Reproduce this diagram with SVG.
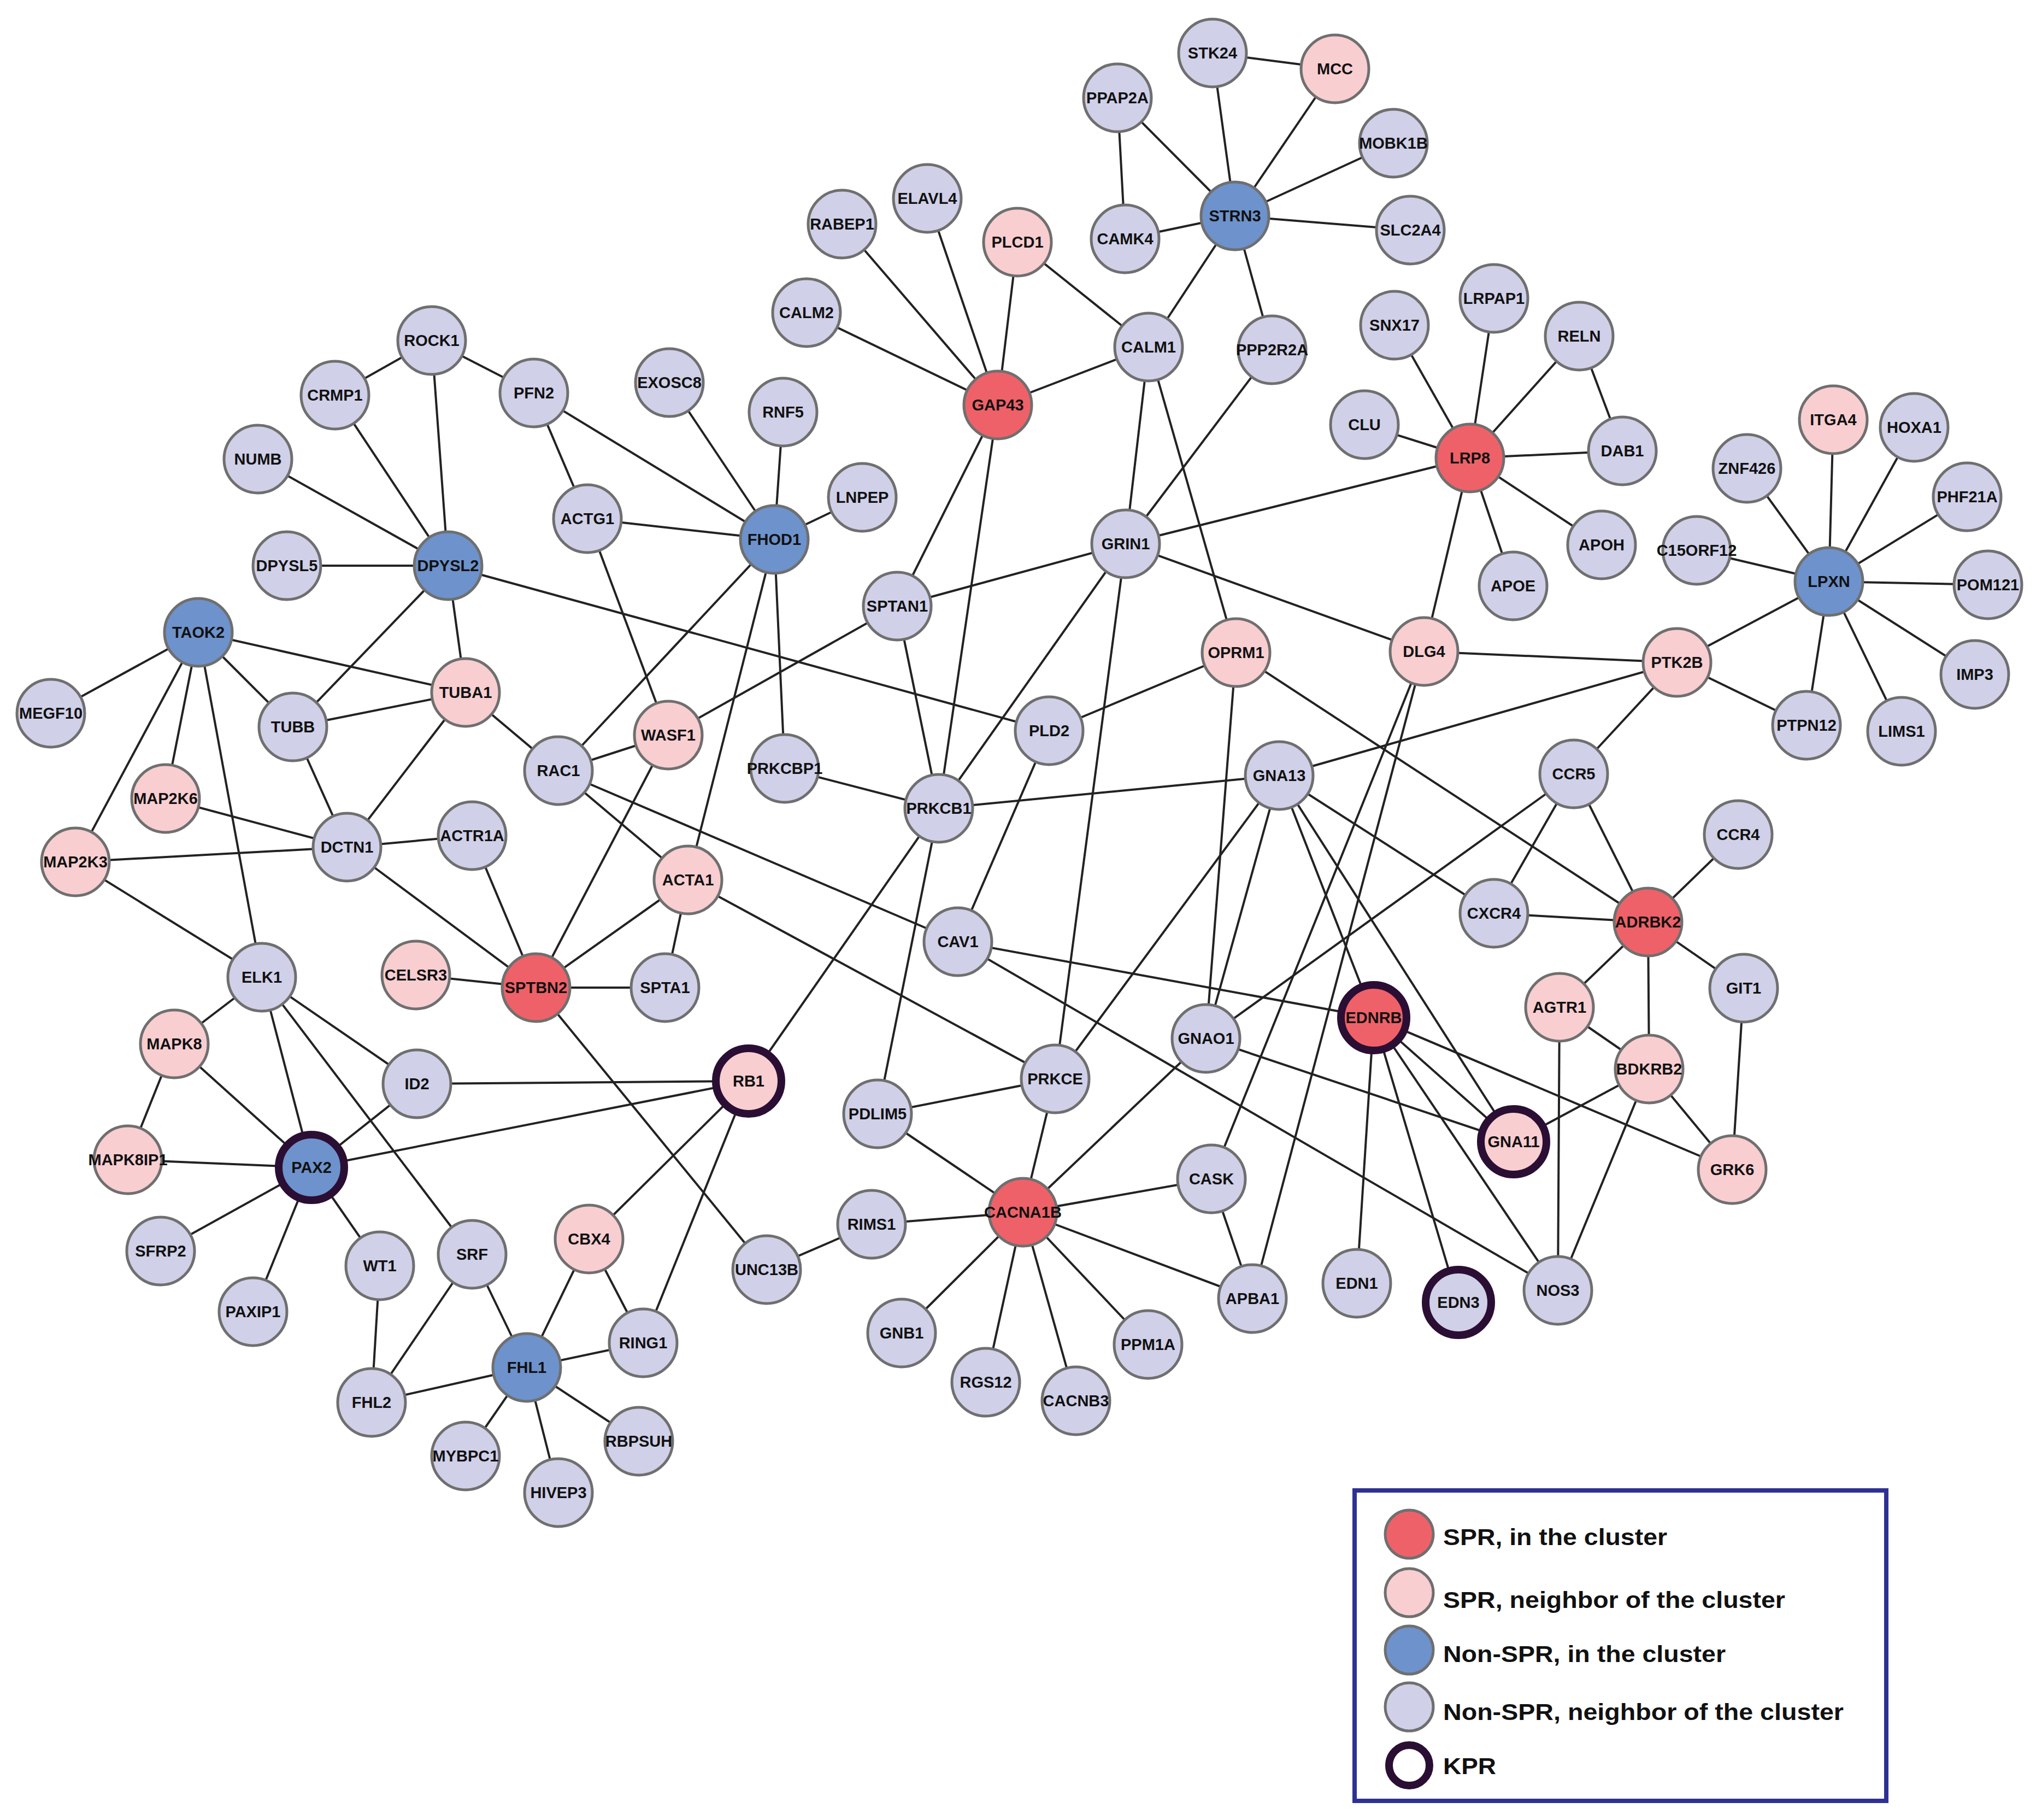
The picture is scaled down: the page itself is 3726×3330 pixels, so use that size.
<svg xmlns="http://www.w3.org/2000/svg" width="3726" height="3330" viewBox="0 0 3726 3330">
<style>
.e{stroke:#222;stroke-width:4;fill:none}
circle{stroke:#6f6f6f;stroke-width:5}
.r{fill:#ef6168}.p{fill:#f8ced1}.b{fill:#6d92cc}.n{fill:#d0d0e8}
.k{stroke:#2b0e33;stroke-width:14}
text{font-family:"Liberation Sans",Arial,sans-serif;font-weight:bold;font-size:29px;fill:#111;text-anchor:middle}
.lg{font-size:42px;text-anchor:start}
</style>
<rect width="3726" height="3330" fill="#fff"/>
<g id="edges" class="e">
<line x1="2260" y1="395" x2="2219" y2="97"/>
<line x1="2260" y1="395" x2="2443" y2="126"/>
<line x1="2260" y1="395" x2="2045" y2="179"/>
<line x1="2260" y1="395" x2="2550" y2="262"/>
<line x1="2260" y1="395" x2="2059" y2="437"/>
<line x1="2260" y1="395" x2="2581" y2="421"/>
<line x1="2260" y1="395" x2="2102" y2="635"/>
<line x1="2260" y1="395" x2="2328" y2="640"/>
<line x1="2219" y1="97" x2="2443" y2="126"/>
<line x1="2045" y1="179" x2="2059" y2="437"/>
<line x1="1826" y1="741" x2="1541" y2="410"/>
<line x1="1826" y1="741" x2="1697" y2="363"/>
<line x1="1826" y1="741" x2="1862" y2="443"/>
<line x1="1826" y1="741" x2="1476" y2="572"/>
<line x1="1826" y1="741" x2="2102" y2="635"/>
<line x1="1826" y1="741" x2="1642" y2="1109"/>
<line x1="1826" y1="741" x2="1718" y2="1479"/>
<line x1="1862" y1="443" x2="2102" y2="635"/>
<line x1="2102" y1="635" x2="2060" y2="995"/>
<line x1="2102" y1="635" x2="2262" y2="1194"/>
<line x1="2328" y1="640" x2="2060" y2="995"/>
<line x1="2690" y1="838" x2="2552" y2="595"/>
<line x1="2690" y1="838" x2="2734" y2="546"/>
<line x1="2690" y1="838" x2="2890" y2="615"/>
<line x1="2690" y1="838" x2="2497" y2="777"/>
<line x1="2690" y1="838" x2="2969" y2="825"/>
<line x1="2690" y1="838" x2="2931" y2="997"/>
<line x1="2690" y1="838" x2="2769" y2="1072"/>
<line x1="2690" y1="838" x2="2606" y2="1192"/>
<line x1="2690" y1="838" x2="2060" y2="995"/>
<line x1="2890" y1="615" x2="2969" y2="825"/>
<line x1="3347" y1="1064" x2="3355" y2="768"/>
<line x1="3347" y1="1064" x2="3503" y2="782"/>
<line x1="3347" y1="1064" x2="3197" y2="857"/>
<line x1="3347" y1="1064" x2="3600" y2="909"/>
<line x1="3347" y1="1064" x2="3105" y2="1007"/>
<line x1="3347" y1="1064" x2="3638" y2="1070"/>
<line x1="3347" y1="1064" x2="3614" y2="1234"/>
<line x1="3347" y1="1064" x2="3480" y2="1338"/>
<line x1="3347" y1="1064" x2="3306" y2="1327"/>
<line x1="3347" y1="1064" x2="3069" y2="1212"/>
<line x1="3069" y1="1212" x2="2606" y2="1192"/>
<line x1="3069" y1="1212" x2="2341" y2="1419"/>
<line x1="3069" y1="1212" x2="2880" y2="1416"/>
<line x1="3069" y1="1212" x2="3306" y2="1327"/>
<line x1="2060" y1="995" x2="1642" y2="1109"/>
<line x1="2060" y1="995" x2="2606" y2="1192"/>
<line x1="2060" y1="995" x2="1718" y2="1479"/>
<line x1="2060" y1="995" x2="1931" y2="1974"/>
<line x1="2606" y1="1192" x2="2217" y2="2157"/>
<line x1="2606" y1="1192" x2="2292" y2="2376"/>
<line x1="2262" y1="1194" x2="1920" y2="1337"/>
<line x1="2262" y1="1194" x2="2207" y2="1900"/>
<line x1="2262" y1="1194" x2="3016" y2="1687"/>
<line x1="1642" y1="1109" x2="1718" y2="1479"/>
<line x1="1642" y1="1109" x2="1223" y2="1345"/>
<line x1="1417" y1="987" x2="1225" y2="700"/>
<line x1="1417" y1="987" x2="1433" y2="754"/>
<line x1="1417" y1="987" x2="1578" y2="910"/>
<line x1="1417" y1="987" x2="1075" y2="949"/>
<line x1="1417" y1="987" x2="977" y2="719"/>
<line x1="1417" y1="987" x2="1436" y2="1406"/>
<line x1="1417" y1="987" x2="1022" y2="1410"/>
<line x1="1417" y1="987" x2="1259" y2="1610"/>
<line x1="790" y1="623" x2="613" y2="723"/>
<line x1="790" y1="623" x2="977" y2="719"/>
<line x1="790" y1="623" x2="820" y2="1035"/>
<line x1="977" y1="719" x2="1075" y2="949"/>
<line x1="1075" y1="949" x2="1223" y2="1345"/>
<line x1="820" y1="1035" x2="613" y2="723"/>
<line x1="820" y1="1035" x2="472" y2="840"/>
<line x1="820" y1="1035" x2="525" y2="1035"/>
<line x1="820" y1="1035" x2="536" y2="1330"/>
<line x1="820" y1="1035" x2="852" y2="1267"/>
<line x1="820" y1="1035" x2="1920" y2="1337"/>
<line x1="363" y1="1157" x2="93" y2="1305"/>
<line x1="363" y1="1157" x2="536" y2="1330"/>
<line x1="363" y1="1157" x2="852" y2="1267"/>
<line x1="363" y1="1157" x2="303" y2="1461"/>
<line x1="363" y1="1157" x2="138" y2="1577"/>
<line x1="363" y1="1157" x2="479" y2="1788"/>
<line x1="536" y1="1330" x2="852" y2="1267"/>
<line x1="536" y1="1330" x2="635" y2="1550"/>
<line x1="852" y1="1267" x2="635" y2="1550"/>
<line x1="852" y1="1267" x2="1022" y2="1410"/>
<line x1="635" y1="1550" x2="303" y2="1461"/>
<line x1="635" y1="1550" x2="138" y2="1577"/>
<line x1="635" y1="1550" x2="864" y2="1529"/>
<line x1="635" y1="1550" x2="981" y2="1807"/>
<line x1="864" y1="1529" x2="981" y2="1807"/>
<line x1="138" y1="1577" x2="479" y2="1788"/>
<line x1="1022" y1="1410" x2="1223" y2="1345"/>
<line x1="1022" y1="1410" x2="1259" y2="1610"/>
<line x1="1022" y1="1410" x2="1753" y2="1723"/>
<line x1="1223" y1="1345" x2="981" y2="1807"/>
<line x1="981" y1="1807" x2="1259" y2="1610"/>
<line x1="981" y1="1807" x2="1217" y2="1807"/>
<line x1="981" y1="1807" x2="761" y2="1784"/>
<line x1="981" y1="1807" x2="1403" y2="2323"/>
<line x1="1259" y1="1610" x2="1217" y2="1807"/>
<line x1="1259" y1="1610" x2="1931" y2="1974"/>
<line x1="1436" y1="1406" x2="1718" y2="1479"/>
<line x1="1718" y1="1479" x2="2341" y2="1419"/>
<line x1="1718" y1="1479" x2="1606" y2="2038"/>
<line x1="1718" y1="1479" x2="1370" y2="1978"/>
<line x1="1920" y1="1337" x2="1753" y2="1723"/>
<line x1="1753" y1="1723" x2="2514" y2="1862"/>
<line x1="1753" y1="1723" x2="2851" y2="2361"/>
<line x1="2341" y1="1419" x2="2207" y2="1900"/>
<line x1="2341" y1="1419" x2="1931" y2="1974"/>
<line x1="2341" y1="1419" x2="2734" y2="1671"/>
<line x1="2341" y1="1419" x2="2514" y2="1862"/>
<line x1="2341" y1="1419" x2="2770" y2="2089"/>
<line x1="2880" y1="1416" x2="2734" y2="1671"/>
<line x1="2880" y1="1416" x2="3016" y2="1687"/>
<line x1="2880" y1="1416" x2="2207" y2="1900"/>
<line x1="3016" y1="1687" x2="3181" y2="1527"/>
<line x1="3016" y1="1687" x2="2734" y2="1671"/>
<line x1="3016" y1="1687" x2="2854" y2="1843"/>
<line x1="3016" y1="1687" x2="3018" y2="1956"/>
<line x1="3016" y1="1687" x2="3191" y2="1808"/>
<line x1="3191" y1="1808" x2="3170" y2="2140"/>
<line x1="2514" y1="1862" x2="2770" y2="2089"/>
<line x1="2514" y1="1862" x2="2483" y2="2348"/>
<line x1="2514" y1="1862" x2="2669" y2="2383"/>
<line x1="2514" y1="1862" x2="2851" y2="2361"/>
<line x1="2514" y1="1862" x2="3170" y2="2140"/>
<line x1="2207" y1="1900" x2="2770" y2="2089"/>
<line x1="2207" y1="1900" x2="1872" y2="2218"/>
<line x1="2854" y1="1843" x2="3018" y2="1956"/>
<line x1="2854" y1="1843" x2="2851" y2="2361"/>
<line x1="3018" y1="1956" x2="2770" y2="2089"/>
<line x1="3018" y1="1956" x2="3170" y2="2140"/>
<line x1="3018" y1="1956" x2="2851" y2="2361"/>
<line x1="1931" y1="1974" x2="1606" y2="2038"/>
<line x1="1931" y1="1974" x2="1872" y2="2218"/>
<line x1="1606" y1="2038" x2="1872" y2="2218"/>
<line x1="1872" y1="2218" x2="2217" y2="2157"/>
<line x1="1872" y1="2218" x2="1595" y2="2240"/>
<line x1="1872" y1="2218" x2="1650" y2="2439"/>
<line x1="1872" y1="2218" x2="1804" y2="2529"/>
<line x1="1872" y1="2218" x2="1969" y2="2563"/>
<line x1="1872" y1="2218" x2="2101" y2="2460"/>
<line x1="1872" y1="2218" x2="2292" y2="2376"/>
<line x1="1595" y1="2240" x2="1403" y2="2323"/>
<line x1="2217" y1="2157" x2="2292" y2="2376"/>
<line x1="479" y1="1788" x2="763" y2="1983"/>
<line x1="479" y1="1788" x2="570" y2="2136"/>
<line x1="479" y1="1788" x2="864" y2="2295"/>
<line x1="479" y1="1788" x2="319" y2="1910"/>
<line x1="319" y1="1910" x2="570" y2="2136"/>
<line x1="319" y1="1910" x2="234" y2="2122"/>
<line x1="234" y1="2122" x2="570" y2="2136"/>
<line x1="763" y1="1983" x2="570" y2="2136"/>
<line x1="763" y1="1983" x2="1370" y2="1978"/>
<line x1="570" y1="2136" x2="1370" y2="1978"/>
<line x1="570" y1="2136" x2="294" y2="2289"/>
<line x1="570" y1="2136" x2="463" y2="2400"/>
<line x1="570" y1="2136" x2="695" y2="2316"/>
<line x1="695" y1="2316" x2="680" y2="2566"/>
<line x1="864" y1="2295" x2="680" y2="2566"/>
<line x1="864" y1="2295" x2="964" y2="2502"/>
<line x1="680" y1="2566" x2="964" y2="2502"/>
<line x1="964" y1="2502" x2="1078" y2="2267"/>
<line x1="964" y1="2502" x2="1177" y2="2457"/>
<line x1="964" y1="2502" x2="852" y2="2664"/>
<line x1="964" y1="2502" x2="1022" y2="2731"/>
<line x1="964" y1="2502" x2="1169" y2="2637"/>
<line x1="1078" y1="2267" x2="1177" y2="2457"/>
<line x1="1078" y1="2267" x2="1370" y2="1978"/>
<line x1="1370" y1="1978" x2="1177" y2="2457"/>
</g>
<g id="STK24"><circle class="n" cx="2219" cy="97" r="62"/><text x="2219" y="107">STK24</text></g>
<g id="MCC"><circle class="p" cx="2443" cy="126" r="62"/><text x="2443" y="136">MCC</text></g>
<g id="PPAP2A"><circle class="n" cx="2045" cy="179" r="62"/><text x="2045" y="189">PPAP2A</text></g>
<g id="MOBK1B"><circle class="n" cx="2550" cy="262" r="62"/><text x="2550" y="272">MOBK1B</text></g>
<g id="STRN3"><circle class="b" cx="2260" cy="395" r="62"/><text x="2260" y="405">STRN3</text></g>
<g id="CAMK4"><circle class="n" cx="2059" cy="437" r="62"/><text x="2059" y="447">CAMK4</text></g>
<g id="SLC2A4"><circle class="n" cx="2581" cy="421" r="62"/><text x="2581" y="431">SLC2A4</text></g>
<g id="ELAVL4"><circle class="n" cx="1697" cy="363" r="62"/><text x="1697" y="373">ELAVL4</text></g>
<g id="RABEP1"><circle class="n" cx="1541" cy="410" r="62"/><text x="1541" y="420">RABEP1</text></g>
<g id="PLCD1"><circle class="p" cx="1862" cy="443" r="62"/><text x="1862" y="453">PLCD1</text></g>
<g id="CALM2"><circle class="n" cx="1476" cy="572" r="62"/><text x="1476" y="582">CALM2</text></g>
<g id="CALM1"><circle class="n" cx="2102" cy="635" r="62"/><text x="2102" y="645">CALM1</text></g>
<g id="PPP2R2A"><circle class="n" cx="2328" cy="640" r="62"/><text x="2328" y="650">PPP2R2A</text></g>
<g id="SNX17"><circle class="n" cx="2552" cy="595" r="62"/><text x="2552" y="605">SNX17</text></g>
<g id="LRPAP1"><circle class="n" cx="2734" cy="546" r="62"/><text x="2734" y="556">LRPAP1</text></g>
<g id="RELN"><circle class="n" cx="2890" cy="615" r="62"/><text x="2890" y="625">RELN</text></g>
<g id="ROCK1"><circle class="n" cx="790" cy="623" r="62"/><text x="790" y="633">ROCK1</text></g>
<g id="PFN2"><circle class="n" cx="977" cy="719" r="62"/><text x="977" y="729">PFN2</text></g>
<g id="EXOSC8"><circle class="n" cx="1225" cy="700" r="62"/><text x="1225" y="710">EXOSC8</text></g>
<g id="RNF5"><circle class="n" cx="1433" cy="754" r="62"/><text x="1433" y="764">RNF5</text></g>
<g id="GAP43"><circle class="r" cx="1826" cy="741" r="62"/><text x="1826" y="751">GAP43</text></g>
<g id="CRMP1"><circle class="n" cx="613" cy="723" r="62"/><text x="613" y="733">CRMP1</text></g>
<g id="CLU"><circle class="n" cx="2497" cy="777" r="62"/><text x="2497" y="787">CLU</text></g>
<g id="LRP8"><circle class="r" cx="2690" cy="838" r="62"/><text x="2690" y="848">LRP8</text></g>
<g id="DAB1"><circle class="n" cx="2969" cy="825" r="62"/><text x="2969" y="835">DAB1</text></g>
<g id="ITGA4"><circle class="p" cx="3355" cy="768" r="62"/><text x="3355" y="778">ITGA4</text></g>
<g id="HOXA1"><circle class="n" cx="3503" cy="782" r="62"/><text x="3503" y="792">HOXA1</text></g>
<g id="NUMB"><circle class="n" cx="472" cy="840" r="62"/><text x="472" y="850">NUMB</text></g>
<g id="ACTG1"><circle class="n" cx="1075" cy="949" r="62"/><text x="1075" y="959">ACTG1</text></g>
<g id="FHOD1"><circle class="b" cx="1417" cy="987" r="62"/><text x="1417" y="997">FHOD1</text></g>
<g id="LNPEP"><circle class="n" cx="1578" cy="910" r="62"/><text x="1578" y="920">LNPEP</text></g>
<g id="ZNF426"><circle class="n" cx="3197" cy="857" r="62"/><text x="3197" y="867">ZNF426</text></g>
<g id="PHF21A"><circle class="n" cx="3600" cy="909" r="62"/><text x="3600" y="919">PHF21A</text></g>
<g id="GRIN1"><circle class="n" cx="2060" cy="995" r="62"/><text x="2060" y="1005">GRIN1</text></g>
<g id="APOH"><circle class="n" cx="2931" cy="997" r="62"/><text x="2931" y="1007">APOH</text></g>
<g id="C15ORF12"><circle class="n" cx="3105" cy="1007" r="62"/><text x="3105" y="1017">C15ORF12</text></g>
<g id="LPXN"><circle class="b" cx="3347" cy="1064" r="62"/><text x="3347" y="1074">LPXN</text></g>
<g id="POM121"><circle class="n" cx="3638" cy="1070" r="62"/><text x="3638" y="1080">POM121</text></g>
<g id="DPYSL5"><circle class="n" cx="525" cy="1035" r="62"/><text x="525" y="1045">DPYSL5</text></g>
<g id="DPYSL2"><circle class="b" cx="820" cy="1035" r="62"/><text x="820" y="1045">DPYSL2</text></g>
<g id="APOE"><circle class="n" cx="2769" cy="1072" r="62"/><text x="2769" y="1082">APOE</text></g>
<g id="SPTAN1"><circle class="n" cx="1642" cy="1109" r="62"/><text x="1642" y="1119">SPTAN1</text></g>
<g id="TAOK2"><circle class="b" cx="363" cy="1157" r="62"/><text x="363" y="1167">TAOK2</text></g>
<g id="OPRM1"><circle class="p" cx="2262" cy="1194" r="62"/><text x="2262" y="1204">OPRM1</text></g>
<g id="DLG4"><circle class="p" cx="2606" cy="1192" r="62"/><text x="2606" y="1202">DLG4</text></g>
<g id="PTK2B"><circle class="p" cx="3069" cy="1212" r="62"/><text x="3069" y="1222">PTK2B</text></g>
<g id="IMP3"><circle class="n" cx="3614" cy="1234" r="62"/><text x="3614" y="1244">IMP3</text></g>
<g id="MEGF10"><circle class="n" cx="93" cy="1305" r="62"/><text x="93" y="1315">MEGF10</text></g>
<g id="TUBB"><circle class="n" cx="536" cy="1330" r="62"/><text x="536" y="1340">TUBB</text></g>
<g id="TUBA1"><circle class="p" cx="852" cy="1267" r="62"/><text x="852" y="1277">TUBA1</text></g>
<g id="WASF1"><circle class="p" cx="1223" cy="1345" r="62"/><text x="1223" y="1355">WASF1</text></g>
<g id="PLD2"><circle class="n" cx="1920" cy="1337" r="62"/><text x="1920" y="1347">PLD2</text></g>
<g id="PTPN12"><circle class="n" cx="3306" cy="1327" r="62"/><text x="3306" y="1337">PTPN12</text></g>
<g id="LIMS1"><circle class="n" cx="3480" cy="1338" r="62"/><text x="3480" y="1348">LIMS1</text></g>
<g id="RAC1"><circle class="n" cx="1022" cy="1410" r="62"/><text x="1022" y="1420">RAC1</text></g>
<g id="PRKCBP1"><circle class="n" cx="1436" cy="1406" r="62"/><text x="1436" y="1416">PRKCBP1</text></g>
<g id="PRKCB1"><circle class="n" cx="1718" cy="1479" r="62"/><text x="1718" y="1489">PRKCB1</text></g>
<g id="GNA13"><circle class="n" cx="2341" cy="1419" r="62"/><text x="2341" y="1429">GNA13</text></g>
<g id="CCR5"><circle class="n" cx="2880" cy="1416" r="62"/><text x="2880" y="1426">CCR5</text></g>
<g id="MAP2K6"><circle class="p" cx="303" cy="1461" r="62"/><text x="303" y="1471">MAP2K6</text></g>
<g id="DCTN1"><circle class="n" cx="635" cy="1550" r="62"/><text x="635" y="1560">DCTN1</text></g>
<g id="ACTR1A"><circle class="n" cx="864" cy="1529" r="62"/><text x="864" y="1539">ACTR1A</text></g>
<g id="ACTA1"><circle class="p" cx="1259" cy="1610" r="62"/><text x="1259" y="1620">ACTA1</text></g>
<g id="CCR4"><circle class="n" cx="3181" cy="1527" r="62"/><text x="3181" y="1537">CCR4</text></g>
<g id="MAP2K3"><circle class="p" cx="138" cy="1577" r="62"/><text x="138" y="1587">MAP2K3</text></g>
<g id="CXCR4"><circle class="n" cx="2734" cy="1671" r="62"/><text x="2734" y="1681">CXCR4</text></g>
<g id="ADRBK2"><circle class="r" cx="3016" cy="1687" r="62"/><text x="3016" y="1697">ADRBK2</text></g>
<g id="CAV1"><circle class="n" cx="1753" cy="1723" r="62"/><text x="1753" y="1733">CAV1</text></g>
<g id="ELK1"><circle class="n" cx="479" cy="1788" r="62"/><text x="479" y="1798">ELK1</text></g>
<g id="CELSR3"><circle class="p" cx="761" cy="1784" r="62"/><text x="761" y="1794">CELSR3</text></g>
<g id="SPTBN2"><circle class="r" cx="981" cy="1807" r="62"/><text x="981" y="1817">SPTBN2</text></g>
<g id="SPTA1"><circle class="n" cx="1217" cy="1807" r="62"/><text x="1217" y="1817">SPTA1</text></g>
<g id="GIT1"><circle class="n" cx="3191" cy="1808" r="62"/><text x="3191" y="1818">GIT1</text></g>
<g id="EDNRB"><circle class="r k" cx="2514" cy="1862" r="60"/><text x="2514" y="1872">EDNRB</text></g>
<g id="AGTR1"><circle class="p" cx="2854" cy="1843" r="62"/><text x="2854" y="1853">AGTR1</text></g>
<g id="GNAO1"><circle class="n" cx="2207" cy="1900" r="62"/><text x="2207" y="1910">GNAO1</text></g>
<g id="MAPK8"><circle class="p" cx="319" cy="1910" r="62"/><text x="319" y="1920">MAPK8</text></g>
<g id="ID2"><circle class="n" cx="763" cy="1983" r="62"/><text x="763" y="1993">ID2</text></g>
<g id="RB1"><circle class="p k" cx="1370" cy="1978" r="60"/><text x="1370" y="1988">RB1</text></g>
<g id="PRKCE"><circle class="n" cx="1931" cy="1974" r="62"/><text x="1931" y="1984">PRKCE</text></g>
<g id="BDKRB2"><circle class="p" cx="3018" cy="1956" r="62"/><text x="3018" y="1966">BDKRB2</text></g>
<g id="PDLIM5"><circle class="n" cx="1606" cy="2038" r="62"/><text x="1606" y="2048">PDLIM5</text></g>
<g id="GNA11"><circle class="p k" cx="2770" cy="2089" r="60"/><text x="2770" y="2099">GNA11</text></g>
<g id="GRK6"><circle class="p" cx="3170" cy="2140" r="62"/><text x="3170" y="2150">GRK6</text></g>
<g id="MAPK8IP1"><circle class="p" cx="234" cy="2122" r="62"/><text x="234" y="2132">MAPK8IP1</text></g>
<g id="PAX2"><circle class="b k" cx="570" cy="2136" r="60"/><text x="570" y="2146">PAX2</text></g>
<g id="CASK"><circle class="n" cx="2217" cy="2157" r="62"/><text x="2217" y="2167">CASK</text></g>
<g id="CACNA1B"><circle class="r" cx="1872" cy="2218" r="62"/><text x="1872" y="2228">CACNA1B</text></g>
<g id="RIMS1"><circle class="n" cx="1595" cy="2240" r="62"/><text x="1595" y="2250">RIMS1</text></g>
<g id="CBX4"><circle class="p" cx="1078" cy="2267" r="62"/><text x="1078" y="2277">CBX4</text></g>
<g id="SFRP2"><circle class="n" cx="294" cy="2289" r="62"/><text x="294" y="2299">SFRP2</text></g>
<g id="WT1"><circle class="n" cx="695" cy="2316" r="62"/><text x="695" y="2326">WT1</text></g>
<g id="SRF"><circle class="n" cx="864" cy="2295" r="62"/><text x="864" y="2305">SRF</text></g>
<g id="UNC13B"><circle class="n" cx="1403" cy="2323" r="62"/><text x="1403" y="2333">UNC13B</text></g>
<g id="EDN1"><circle class="n" cx="2483" cy="2348" r="62"/><text x="2483" y="2358">EDN1</text></g>
<g id="NOS3"><circle class="n" cx="2851" cy="2361" r="62"/><text x="2851" y="2371">NOS3</text></g>
<g id="EDN3"><circle class="n k" cx="2669" cy="2383" r="60"/><text x="2669" y="2393">EDN3</text></g>
<g id="APBA1"><circle class="n" cx="2292" cy="2376" r="62"/><text x="2292" y="2386">APBA1</text></g>
<g id="PAXIP1"><circle class="n" cx="463" cy="2400" r="62"/><text x="463" y="2410">PAXIP1</text></g>
<g id="RING1"><circle class="n" cx="1177" cy="2457" r="62"/><text x="1177" y="2467">RING1</text></g>
<g id="FHL1"><circle class="b" cx="964" cy="2502" r="62"/><text x="964" y="2512">FHL1</text></g>
<g id="FHL2"><circle class="n" cx="680" cy="2566" r="62"/><text x="680" y="2576">FHL2</text></g>
<g id="GNB1"><circle class="n" cx="1650" cy="2439" r="62"/><text x="1650" y="2449">GNB1</text></g>
<g id="PPM1A"><circle class="n" cx="2101" cy="2460" r="62"/><text x="2101" y="2470">PPM1A</text></g>
<g id="RGS12"><circle class="n" cx="1804" cy="2529" r="62"/><text x="1804" y="2539">RGS12</text></g>
<g id="CACNB3"><circle class="n" cx="1969" cy="2563" r="62"/><text x="1969" y="2573">CACNB3</text></g>
<g id="MYBPC1"><circle class="n" cx="852" cy="2664" r="62"/><text x="852" y="2674">MYBPC1</text></g>
<g id="RBPSUH"><circle class="n" cx="1169" cy="2637" r="62"/><text x="1169" y="2647">RBPSUH</text></g>
<g id="HIVEP3"><circle class="n" cx="1022" cy="2731" r="62"/><text x="1022" y="2741">HIVEP3</text></g>
<g id="legend">
<rect x="2479" y="2727" width="973" height="568" fill="#fff" stroke="#2e3192" stroke-width="8"/>
<circle class="r" cx="2579" cy="2807" r="44"/>
<circle class="p" cx="2579" cy="2914" r="44"/>
<circle class="b" cx="2579" cy="3019" r="44"/>
<circle class="n" cx="2579" cy="3123" r="44"/>
<circle class="k" cx="2579" cy="3230" r="37" fill="#fff"/>
<text class="lg" x="2641" y="2827" textLength="410" lengthAdjust="spacingAndGlyphs">SPR, in the cluster</text>
<text class="lg" x="2641" y="2942" textLength="626" lengthAdjust="spacingAndGlyphs">SPR, neighbor of the cluster</text>
<text class="lg" x="2641" y="3041" textLength="517" lengthAdjust="spacingAndGlyphs">Non-SPR, in the cluster</text>
<text class="lg" x="2641" y="3147" textLength="733" lengthAdjust="spacingAndGlyphs">Non-SPR, neighbor of the cluster</text>
<text class="lg" x="2641" y="3246" textLength="97" lengthAdjust="spacingAndGlyphs">KPR</text>
</g>
</svg>
